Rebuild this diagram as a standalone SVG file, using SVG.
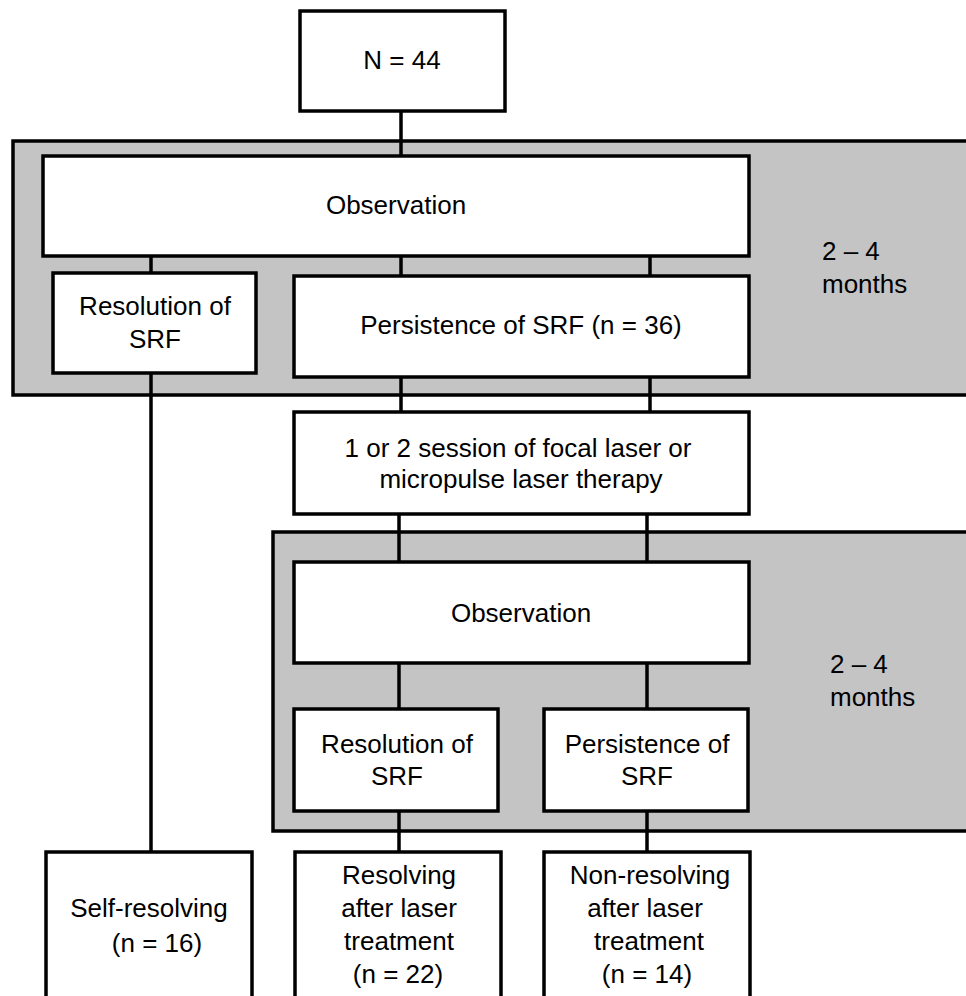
<svg xmlns="http://www.w3.org/2000/svg" width="966" height="996" viewBox="0 0 966 996">
<style>
.bg{fill:#c4c4c4;stroke:#000;stroke-width:3.5}
.box{fill:#fff;stroke:#000;stroke-width:3.5}
.ln{stroke:#000;stroke-width:3.5;fill:none}
text{font-family:"Liberation Sans",Arial,sans-serif;font-size:26px;fill:#000;text-anchor:middle}
.lt{text-anchor:start}
</style>
<rect width="966" height="996" fill="#fff"/>
<g id="period1"><rect class="bg" x="13" y="141" width="970" height="254"/>
<text class="lt" x="822" y="260">2 – 4</text><text class="lt" x="822" y="293">months</text></g>
<g id="period2"><rect class="bg" x="273" y="532" width="710" height="299"/>
<text class="lt" x="830" y="673">2 – 4</text><text class="lt" x="830" y="706">months</text></g>
<g id="connectors">
<line class="ln" x1="401" y1="111" x2="401" y2="156"/>
<line class="ln" x1="151" y1="256" x2="151" y2="852"/>
<line class="ln" x1="401" y1="256" x2="401" y2="412"/>
<line class="ln" x1="650" y1="256" x2="650" y2="412"/>
<line class="ln" x1="399" y1="514" x2="399" y2="852"/>
<line class="ln" x1="647" y1="514" x2="647" y2="852"/>
</g>
<g id="n44"><rect class="box" x="300" y="11" width="205" height="100"/><text x="402" y="69">N = 44</text></g>
<g id="obs1"><rect class="box" x="43" y="156" width="706" height="100"/><text x="396" y="214">Observation</text></g>
<g id="res1"><rect class="box" x="53" y="273" width="203" height="100"/><text x="155" y="315">Resolution of</text><text x="155" y="348">SRF</text></g>
<g id="pers1"><rect class="box" x="294" y="276" width="455" height="101"/><text x="521" y="334">Persistence of SRF (n = 36)</text></g>
<g id="laser"><rect class="box" x="294" y="412" width="455" height="102"/><text x="518" y="457">1 or 2 session of focal laser or</text><text x="521" y="488">micropulse laser therapy</text></g>
<g id="obs2"><rect class="box" x="294" y="562" width="455" height="101"/><text x="521" y="622">Observation</text></g>
<g id="res2"><rect class="box" x="294" y="709" width="204" height="102"/><text x="397" y="753">Resolution of</text><text x="397" y="785">SRF</text></g>
<g id="pers2"><rect class="box" x="544" y="709" width="204" height="102"/><text x="647" y="753">Persistence of</text><text x="647" y="785">SRF</text></g>
<g id="self"><rect class="box" x="46" y="852" width="206" height="160"/><text x="149" y="917">Self-resolving</text><text x="157" y="952">(n = 16)</text></g>
<g id="resolving"><rect class="box" x="295" y="852" width="206" height="160"/><text x="399" y="884">Resolving</text><text x="399" y="917">after laser</text><text x="399" y="950">treatment</text><text x="398" y="983">(n = 22)</text></g>
<g id="nonresolving"><rect class="box" x="544" y="852" width="206" height="160"/><text x="650" y="884">Non-resolving</text><text x="645" y="917">after laser</text><text x="649" y="950">treatment</text><text x="647" y="983">(n = 14)</text></g>
</svg>
